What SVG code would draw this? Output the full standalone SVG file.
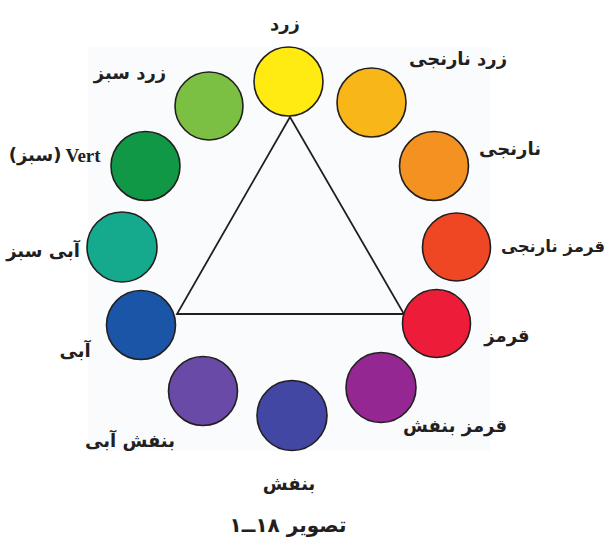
<svg xmlns="http://www.w3.org/2000/svg" width="609" height="542" viewBox="0 0 609 542">
<style>
.c{stroke:#231F20;stroke-width:1.6}
.t{font-family:"DejaVu Sans",sans-serif;font-weight:bold;font-size:18px;fill:#231F20;text-anchor:middle}
.cap{font-size:20px}
.sm{font-size:16.5px}
.v{font-family:"Liberation Serif",serif;font-weight:bold;font-size:19px;fill:#231F20;text-anchor:middle}
.ln{fill:none;stroke:#231F20;stroke-width:1.8;stroke-linejoin:miter}
</style>
<rect width="609" height="542" fill="#FFFFFF"/>
<rect x="88" y="47" width="402" height="404" fill="#FAFBFC"/>
<g id="connectors">
<polygon class="ln" points="290,117 177,314 404,314"/>
</g>
<g id="yellow"><circle class="c" cx="288.5" cy="81.5" r="34.5" fill="#FFEA12"/><text class="t" x="285" y="30" direction="rtl">زرد</text></g>
<g id="yellow-orange"><circle class="c" cx="371.5" cy="102.5" r="34.5" fill="#F8B619"/><text class="t" x="458" y="65" direction="rtl">زرد نارنجی</text></g>
<g id="orange"><circle class="c" cx="434" cy="166" r="34.5" fill="#F39220"/><text class="t" x="510" y="155" direction="rtl">نارنجی</text></g>
<g id="red-orange"><circle class="c" cx="456.5" cy="247" r="34" fill="#EF4623"/><text class="t sm" x="553" y="252" direction="rtl">قرمز نارنجی</text></g>
<g id="red"><circle class="c" cx="436.5" cy="323.5" r="34" fill="#ED1C39"/><text class="t" x="507" y="342" direction="rtl">قرمز</text></g>
<g id="red-violet"><circle class="c" cx="381" cy="387.5" r="35" fill="#942792"/><text class="t" x="455" y="432" direction="rtl">قرمز بنفش</text></g>
<g id="violet"><circle class="c" cx="292" cy="415.5" r="35" fill="#4147A3"/><text class="t" x="289" y="490" direction="rtl">بنفش</text></g>
<g id="blue-violet"><circle class="c" cx="203" cy="391" r="34.5" fill="#6A4AA7"/><text class="t" x="130" y="447" direction="rtl">بنفش آبی</text></g>
<g id="blue"><circle class="c" cx="141" cy="325" r="34.5" fill="#1B55A8"/><text class="t" x="75" y="357" direction="rtl">آبی</text></g>
<g id="blue-green"><circle class="c" cx="122" cy="247" r="35" fill="#15A98D"/><text class="t" x="43" y="257" direction="rtl">آبی سبز</text></g>
<g id="green"><circle class="c" cx="145.5" cy="166" r="34.5" fill="#109847"/><text class="v" x="83" y="162">Vert</text><text class="t" x="35" y="161">(سبز)</text></g>
<g id="yellow-green"><circle class="c" cx="209" cy="106" r="34" fill="#7BC043"/><text class="t" x="130" y="79" direction="rtl">زرد سبز</text></g>
<g id="caption"><text class="t cap" x="288" y="532" direction="rtl">تصویر ۱۸ــ۱</text></g>
</svg>
